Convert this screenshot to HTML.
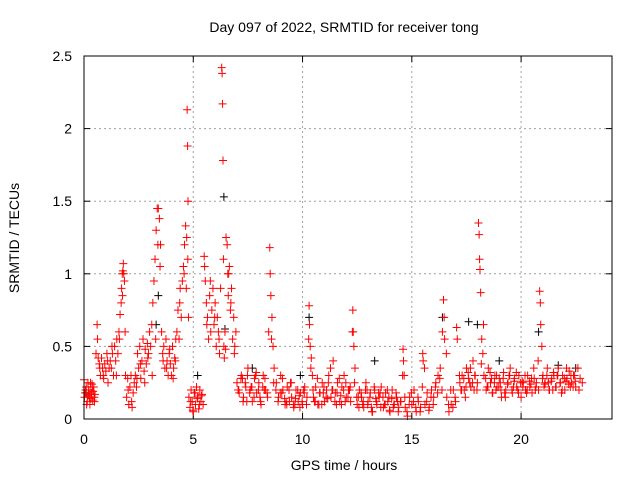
<!DOCTYPE html>
<html><head><meta charset="utf-8"><style>
body{margin:0;background:#fff}
svg{display:block;font-family:"Liberation Sans",sans-serif}
</style></head><body>
<svg id="c" width="640" height="480" xmlns="http://www.w3.org/2000/svg"></svg>
<script>
const xTicks=[0,5,10,15,20];
const yTicks=[0,0.5,1,1.5,2,2.5];
const yTickLabels=["0","0.5","1","1.5","2","2.5"];
const redT=[0,0.05,0.1,0.15,0.2,0.25,0.3,0.35,0.4,0.45,0.5,
0.02,0.08,0.12,0.18,0.22,0.28,0.32,0.38,0.42,0.48,
0.55,0.6,0.62,0.65,0.7,0.75,0.8,0.85,0.9,0.95,1.0,1.05,1.1,1.15,1.2,
1.25,1.3,1.35,1.4,1.45,1.5,1.55,1.6,1.65,1.7,1.72,1.75,1.78,1.8,1.82,1.85,1.88,1.9,
1.95,2.0,2.05,2.1,2.15,2.2,2.25,2.3,
2.35,2.4,2.45,2.5,2.55,2.6,2.65,2.7,2.75,2.8,2.85,2.9,2.95,3.0,
3.05,3.1,3.15,3.2,3.25,3.3,3.35,3.4,3.45,3.5,
3.55,3.6,3.65,3.7,3.75,3.8,3.85,3.9,3.95,4.0,4.05,4.1,4.15,4.2,
4.25,4.3,4.35,4.4,4.45,4.5,4.55,4.6,4.65,4.7,4.75,4.72,4.74,4.76,4.78,
4.8,4.85,4.9,4.95,5.0,5.05,5.1,5.15,5.2,5.25,5.3,5.35,5.4,5.45,
5.5,5.52,5.55,5.6,5.65,5.7,5.75,5.8,5.85,5.9,5.95,6.0,6.05,6.1,6.15,6.2,6.25,
6.3,6.32,6.34,6.36,6.38,6.4,6.42,6.45,6.5,6.55,6.58,6.6,6.65,6.7,6.75,6.8,6.85,6.9,6.95,
7.0,7.1,7.2,7.3,7.4,7.5,7.6,7.7,7.8,7.9,8.0,8.1,8.2,8.3,8.4,
8.45,8.5,8.52,8.55,8.6,8.65,8.7,
8.8,8.9,9.0,9.1,9.2,9.3,9.4,
9.5,9.6,9.7,9.8,9.9,10.0,10.1,10.2,
10.3,10.32,10.35,10.4,10.45,
10.5,10.6,10.7,10.8,10.9,11.0,11.1,11.2,11.3,11.4,11.5,11.6,11.7,11.8,11.9,12.0,12.1,12.2,
12.3,12.32,12.35,12.4,
12.5,12.6,12.7,12.8,12.9,13.0,13.1,13.2,13.3,13.4,13.5,13.6,13.7,13.8,13.9,14.0,14.1,14.2,14.3,14.4,14.5,
14.6,14.62,14.65,
14.7,14.8,14.9,15.0,15.1,15.2,15.3,15.4,
15.5,15.52,
15.6,15.7,15.8,15.9,16.0,16.1,16.2,16.3,
16.4,16.45,16.48,16.5,
16.6,16.7,16.8,16.9,17.0,17.05,17.08,
17.2,17.3,17.4,17.5,17.6,17.7,17.8,17.9,18.0,
18.05,18.08,18.1,18.12,18.15,18.2,18.25,
18.3,18.4,18.5,18.6,18.7,18.8,18.9,19.0,19.1,19.2,19.3,19.4,19.5,19.6,19.7,19.8,19.9,20.0,20.1,20.2,20.3,20.4,20.5,20.6,20.7,20.8,
20.85,20.88,20.9,20.95,
21.0,21.1,21.2,21.3,21.4,21.5,21.6,21.7,21.8,21.9,22.0,22.1,22.2,22.3,22.4,22.5,22.6,22.7,22.8,
7.05,7.25,7.45,7.65,7.85,8.05,8.25,9.05,9.25,9.45,9.65,9.85,10.05,10.55,10.75,10.95,11.15,11.35,11.55,11.75,11.95,12.15,12.55,12.75,12.95,13.15,13.35,13.55,13.75,13.95,14.15,14.35,17.25,17.45,17.65,17.85,18.45,18.65,18.85,19.05,19.25,19.45,19.65,19.85,20.05,20.25,20.45,20.65,21.05,21.25,21.45,21.65,21.85,22.05,22.25,22.45,22.65];
const redV=[.27,.18,.22,.12,.2,.15,.25,.18,.13,.22,.17,
.15,.2,.1,.25,.17,.2,.14,.22,.19,.12,
.45,.65,.55,.42,.38,.3,.42,.35,.28,.38,.33,.45,.25,.35,.4,
.35,.45,.3,.5,.4,.55,.45,.6,.72,.8,.9,1.0,1.02,1.07,1.0,.95,.6,.3,
.15,.28,.1,.22,.3,.08,.18,.25,
.3,.22,.45,.35,.5,.28,.4,.55,.33,.48,.38,.52,.45,.6,
.5,.65,.8,.95,1.1,1.3,1.45,1.45,1.38,1.2,
.6,.45,.5,.35,.55,.4,.3,.45,.38,.3,.5,.35,.42,.55,
.6,.75,.55,.9,.7,.95,1.05,1.2,1.33,1.25,1.1,2.13,1.88,1.5,.7,
.15,.08,.2,.12,.05,.18,.1,.22,.15,.07,.2,.12,.17,.1,
1.12,1.05,.95,.8,.7,.55,.85,.6,.75,.9,.65,.8,.5,.7,.6,.45,.9,
2.42,2.38,2.17,1.78,1.1,.5,.42,.6,1.25,1.2,1.0,.85,1.05,.75,.9,.55,.7,.5,.6,
.25,.18,.3,.15,.22,.35,.2,.12,.28,.18,.25,.1,.3,.2,.15,
.6,1.18,1.0,.85,.7,.5,.35,
.25,.15,.3,.2,.1,.22,.12,
.15,.08,.2,.12,.18,.1,.22,.15,
.78,.65,.5,.42,.3,
.15,.22,.1,.18,.25,.12,.2,.3,.15,.4,.18,.25,.12,.22,.3,.15,.2,.12,
.75,.6,.5,.35,
.1,.2,.15,.08,.25,.12,.18,.05,.2,.1,.15,.22,.08,.18,.12,.05,.2,.1,.15,.08,.12,
.48,.4,.3,
.08,.02,.15,.1,.2,.05,.12,.08,
.45,.4,
.1,.18,.08,.2,.15,.25,.3,.35,
.6,.82,.7,.55,
.15,.05,.1,.2,.12,.63,.55,
.25,.3,.2,.35,.28,.22,.4,.3,.25,
1.35,1.27,1.1,1.03,.87,.55,.45,
.3,.2,.35,.25,.18,.3,.22,.28,.15,.32,.2,.25,.35,.18,.28,.22,.3,.15,.25,.2,.3,.22,.18,.28,.25,.2,
.88,.8,.65,.5,
.3,.25,.35,.2,.28,.3,.22,.35,.25,.3,.2,.28,.33,.25,.3,.22,.35,.28,.25,
.2,.28,.12,.22,.3,.15,.2,.18,.12,.25,.1,.16,.2,.12,.1,.18,.14,.2,.1,.16,.12,.2,.15,.1,.2,.08,.14,.18,.1,.15,.08,.12,.2,.15,.25,.2,.22,.28,.2,.25,.18,.3,.22,.2,.26,.18,.24,.2,.22,.25,.2,.3,.18,.26,.22,.3,.2];
const red2T=[0.07,0.17,0.27,0.37,0.47,0.72,0.88,1.08,1.28,1.48,1.62,1.76,2.02,2.18,2.42,2.58,2.78,2.92,3.12,3.28,3.38,3.48,3.62,3.78,3.92,4.08,4.18,4.38,4.58,4.68,4.88,4.98,5.08,5.18,5.28,5.38,5.62,5.78,5.98,6.18,6.48,6.62,6.72,6.88,
7.08,7.18,7.28,7.38,7.48,7.58,7.68,7.78,7.88,7.98,8.08,8.18,8.28,8.38,8.58,8.68,8.78,8.88,8.98,9.08,9.18,9.28,9.38,9.48,9.58,9.68,9.78,9.88,9.98,10.08,10.18,10.28,10.38,10.48,10.58,10.68,10.78,10.88,10.98,11.08,11.18,11.28,11.38,11.48,11.58,11.68,11.78,11.88,11.98,12.08,12.18,12.28,12.38,12.48,12.58,12.68,12.78,12.88,12.98,13.08,13.18,13.28,13.38,13.48,13.58,13.68,13.78,13.88,13.98,14.08,14.18,14.28,14.38,14.48,14.58,14.68,14.78,14.88,14.98,15.08,15.18,15.28,15.38,15.48,15.58,15.68,15.78,15.88,15.98,16.08,16.18,16.28,16.38,16.58,16.68,16.78,16.88,16.98,17.18,17.28,17.38,17.48,17.58,17.68,17.78,17.88,17.98,18.18,18.28,18.38,18.48,18.58,18.68,18.78,18.88,18.98,19.08,19.18,19.28,19.38,19.48,19.58,19.68,19.78,19.88,19.98,20.08,20.18,20.28,20.38,20.48,20.58,20.68,20.78,20.98,21.08,21.18,21.28,21.38,21.48,21.58,21.68,21.78,21.88,21.98,22.08,22.18,22.28,22.38,22.48,22.58,22.68,22.78];
const red2V=[.2,.16,.1,.24,.15,.35,.3,.4,.5,.3,.55,.85,.2,.12,.28,.38,.25,.42,.3,.55,1.2,1.05,.4,.35,.48,.28,.4,.8,1.0,.9,.12,.06,.18,.14,.1,.16,.65,.95,.7,.55,.48,1.0,.8,.45,
.2,.28,.12,.25,.3,.18,.22,.15,.32,.2,.12,.22,.28,.18,.55,.25,.2,.12,.18,.28,.14,.1,.2,.25,.1,.14,.2,.08,.12,.18,.1,.55,.35,.2,.12,.28,.18,.1,.22,.15,.25,.35,.2,.12,.18,.28,.1,.2,.25,.15,.22,.6,.25,.15,.08,.18,.12,.2,.1,.15,.05,.22,.12,.18,.08,.15,.1,.2,.06,.14,.1,.18,.05,.12,.3,.15,.05,.1,.18,.12,.08,.15,.05,.22,.35,.12,.06,.15,.1,.22,.18,.28,.2,.45,.1,.2,.08,.15,.3,.2,.28,.22,.32,.35,.25,.3,.2,.38,.65,.28,.22,.32,.18,.25,.3,.22,.2,.28,.15,.24,.3,.2,.26,.32,.18,.25,.22,.3,.2,.26,.28,.35,.22,.4,.28,.24,.3,.2,.26,.32,.22,.3,.25,.2,.28,.35,.24,.3,.22,.26];
const blkT=[0.1,3.3,3.4,5.2,6.4,6.45,7.7,9.9,10.3,13.3,16.4,17.6,18.0,19.0,20.8,21.7,22.5];
const blkV=[.18,.65,.85,.3,1.53,.62,.35,.3,.7,.4,.7,.67,.65,.4,.6,.37,.35];

const L=84,R=612,T=56,B=419,XMAX=24.16,YMAX=2.5;
const xs=v=>L+v/XMAX*(R-L), ys=v=>B-v/YMAX*(B-T);
const svg=document.getElementById('c');const NS='http://www.w3.org/2000/svg';
function mk(tag,a,parent){const e=document.createElementNS(NS,tag);for(const k in a)e.setAttribute(k,a[k]);(parent||svg).appendChild(e);return e;}
function txt(s,a){const e=mk('text',a);e.textContent=s;return e;}
const g=mk('g',{});


xTicks.forEach(t=>{const x=xs(t);
 if(t>0){mk('line',{x1:x,y1:T,x2:x,y2:B,stroke:'#a0a0a0','stroke-dasharray':'2,3'},g);}
 mk('line',{x1:x,y1:B,x2:x,y2:B-6,stroke:'#000'});mk('line',{x1:x,y1:T,x2:x,y2:T+6,stroke:'#000'});
 const e=txt(String(t),{x:x,y:444,'text-anchor':'middle','font-size':14});
 
 });
yTicks.forEach((t,i)=>{const y=ys(t);
 if(t>0&&t<YMAX)mk('line',{x1:L,y1:y,x2:R,y2:y,stroke:'#a0a0a0','stroke-dasharray':'2,3'},g);
 mk('line',{x1:L,y1:y,x2:L+6,y2:y,stroke:'#000'});mk('line',{x1:R,y1:y,x2:R-6,y2:y,stroke:'#000'});
 const e=txt(yTickLabels[i],{x:72,y:y+5,'text-anchor':'end','font-size':14});
 
 });
function plus(t,v,col,name){const x=xs(t),y=ys(v);
 const p=mk('path',{d:`M${x-4},${y}h8M${x},${y-4}v8`,stroke:col,'stroke-width':1,fill:'none'});
 
 }
blkT.forEach((t,i)=>plus(t,blkV[i],'#000','black-point'));
redT.forEach((t,i)=>plus(t,redV[i],'#ff0000','red-point'));
red2T.forEach((t,i)=>plus(t,red2V[i],'#ff0000','red-point'));
const fr=mk('rect',{x:L,y:T,width:R-L,height:B-T,fill:'none',stroke:'#000'});


const ti=txt('Day 097 of 2022, SRMTID for receiver tong',{x:344,y:32,'text-anchor':'middle','font-size':14});


const xl=txt('GPS time / hours',{x:344,y:470,'text-anchor':'middle','font-size':14});


const yl=txt('SRMTID / TECUs',{x:0,y:0,'text-anchor':'middle','font-size':14,transform:'translate(19,238) rotate(-90)'});


</script>
</body></html>
